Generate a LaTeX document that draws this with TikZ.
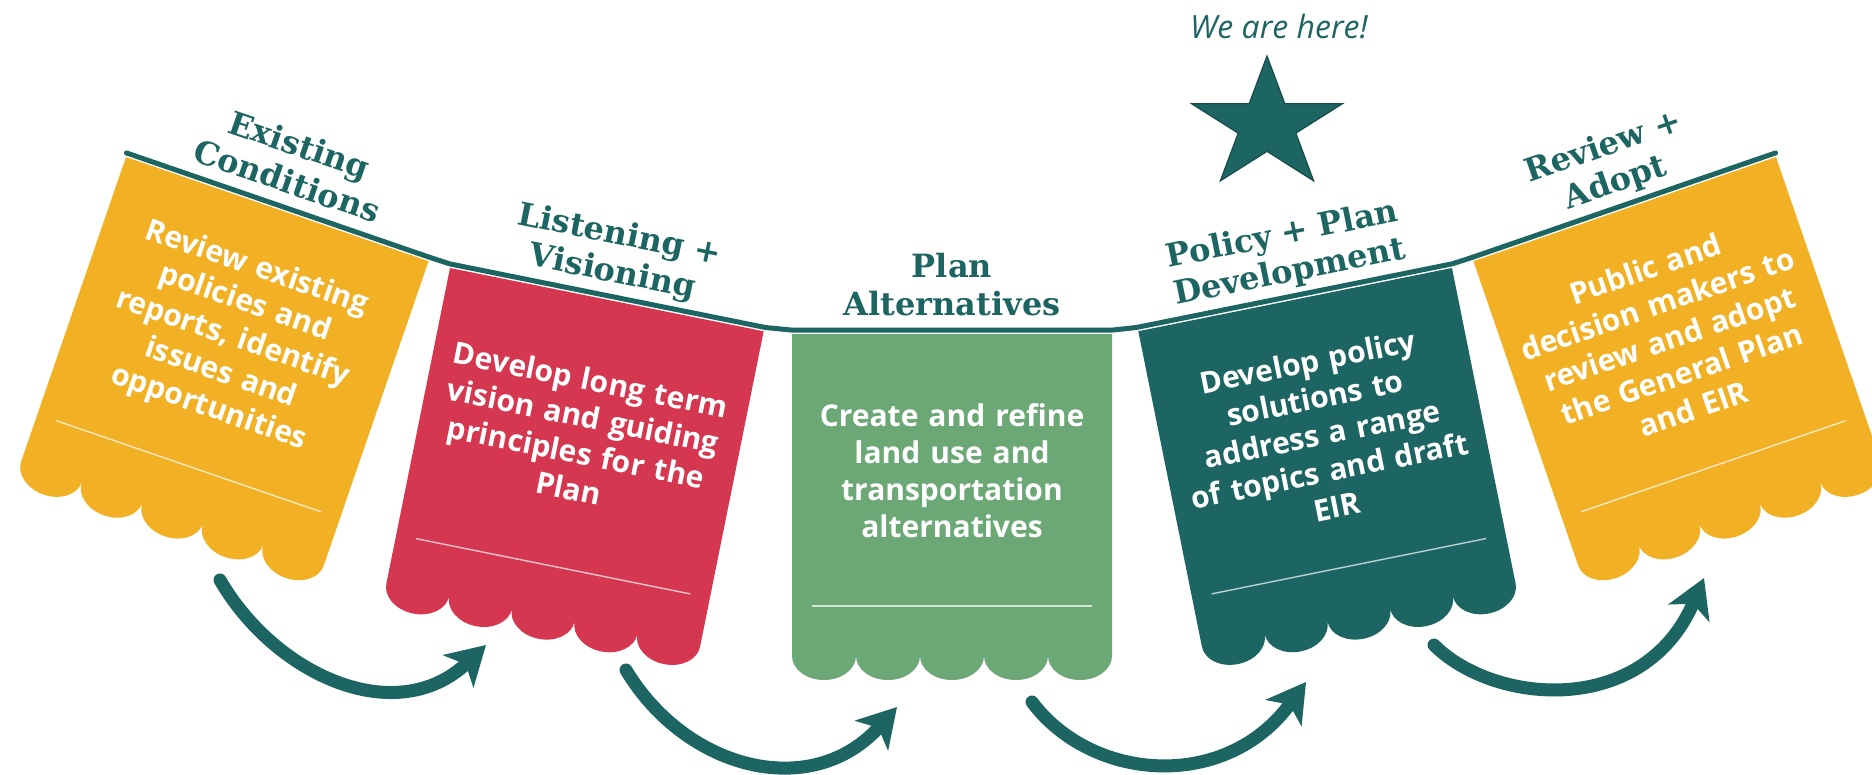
\documentclass[tikz,border=0pt]{standalone}
\usepackage{fontspec}
\usetikzlibrary{arrows.meta,shapes.geometric}
\newfontfamily\fonttitre{DejaVu Serif}
\newfontfamily\fontcorps{Open Sans}
\definecolor{sarcelle}{HTML}{1D6563}
\definecolor{jaune}{HTML}{F2B124}
\definecolor{rouge}{HTML}{D4374F}
\definecolor{vert}{HTML}{6BA875}
\tikzset{
  titre/.style={font=\fonttitre\bfseries\fontsize{32}{38}\selectfont, text=sarcelle, align=center, text width=360pt, anchor=south, inner sep=0pt, execute at end node=\vphantom{g}},
  corps/.style={font=\fontcorps\bfseries\fontsize{30}{37}\selectfont, text=white, align=center, text width=340pt, inner sep=0pt},
  trait/.style={draw=white, opacity=0.7, line width=1.4pt},
  corde/.style={draw=sarcelle, line width=5pt, line join=round, line cap=round},
  fleche/.style={draw=sarcelle, line width=13pt, line cap=round, -{Stealth[length=38pt,width=44pt,inset=10pt]}}
}
\begin{document}
\begin{tikzpicture}[x=1pt,y=-1pt]
   \useasboundingbox (0,0) rectangle (1872,774);

   % Les fanions, un par étape
   \foreach \nom/\x/\y/\ang/\coul/\titre/\texte in {
      b1/126/157/-19/jaune/{Existing\\Conditions}/{Review existing\\policies and\\reports, identify\\issues and\\opportunities},
      b2/450/268/-11.4/rouge/{Listening +\\Visioning}/{Develop long term\\vision and guiding\\principles for the\\Plan},
      b3/792/334/0/vert/{Plan\\Alternatives}/{Create and refine\\land use and\\transportation\\alternatives},
      b4/1138.3/331.2/11.4/sarcelle/{Policy + Plan\\Development}/{Develop policy\\solutions to\\address a range\\of topics and draft\\EIR},
      b5/1473.4/261.2/19/jaune/{Review +\\Adopt}/{Public and\\decision makers to\\review and adopt\\the General Plan\\and EIR}} {
      \begin{scope}[shift={(\x,\y)}, rotate=\ang, transform shape]
         % Corps du fanion avec le bas festonné
         \fill[\coul] (0,0) -- (320,0) -- (320,322)
            foreach \k in {4,3,2,1,0} {
               .. controls ({64*\k+64},335) and ({64*\k+50},346) .. ({64*\k+32},346)
               .. controls ({64*\k+14},346) and ({64*\k},335) .. ({64*\k},322)
            } -- cycle;
         % Trait clair
         \draw[trait] (20,272) -- (300,272);
         % Points d'attache sur la corde
         \coordinate (\nom-g) at (-1,-4);
         \coordinate (\nom-d) at (321,-4);
         % Textes
         \node[corps] (\nom-c) at (160,137) {\texte};
         \node[titre] (\nom-t) at (160,-11) {\titre};
      \end{scope}
   }

   % La corde
   \draw[corde] (b1-g) -- (b1-d) -- (b2-g) -- (b2-d) -- (b3-g) -- (b3-d) -- (b4-g) -- (b4-d) -- (b5-g) -- (b5-d);

   % Les flèches entre les étapes
   \foreach \i/\sx/\sy/\ax/\ay/\bx/\by/\ex/\ey in {
      1/220/580/55/95/-90/85/486/645,
      2/626/670/60/100/-85/95/897/707,
      3/1032/702/60/80/-80/110/1306/682,
      4/1434/645/60/60/-60/140/1704/578} {
      \coordinate (d\i) at (\sx,\sy);
      \coordinate (f\i) at (\ex,\ey);
      \draw[fleche] (d\i) .. controls +(\ax,\ay) and +(\bx,\by) .. (f\i);
   }

   % Étoile et repère
   \node[text=sarcelle, font=\fontcorps\itshape\fontsize{32}{38}\selectfont] (ici) at (1279,27) {We are here!};
   \node[star, star points=5, star point ratio=2.618, minimum size=138pt, inner sep=0pt, fill=sarcelle, draw=sarcelle!75!black, line width=1.2pt, xscale=1.15] (etoile) at (1267,125) {};
\end{tikzpicture}
\end{document}
